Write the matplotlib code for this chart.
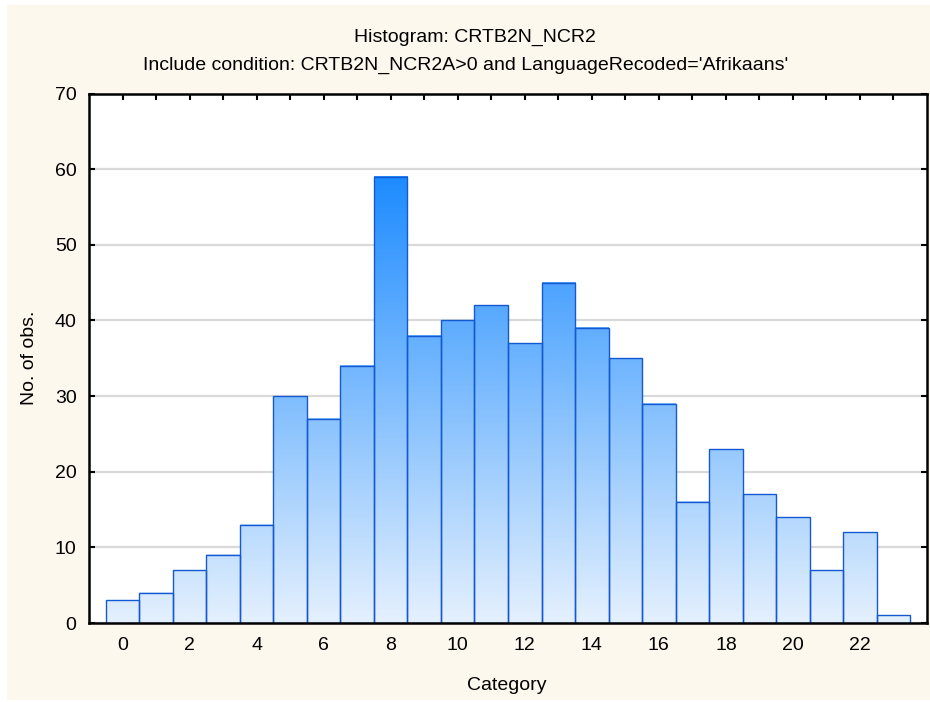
import numpy as np
import matplotlib.pyplot as plt
from matplotlib.colors import LinearSegmentedColormap
from matplotlib.patches import Rectangle

# data
categories = np.arange(24)
counts = [3, 4, 7, 9, 13, 30, 27, 34, 59, 38, 40, 42, 37, 45, 39, 35, 29, 16, 23, 17, 14, 7, 12, 1]
xticks = np.arange(0, 23, 2)
yticks = np.arange(0, 71, 10)

title1 = "Histogram: CRTB2N_NCR2"
title2 = "Include condition: CRTB2N_NCR2A>0 and LanguageRecoded='Afrikaans'"

FS = 14
plt.rcParams['font.family'] = ['Liberation Sans', 'DejaVu Sans']
plt.rcParams['font.size'] = FS

BG = '#FDF8EE'
EDGE = '#1459D2'
cmap = LinearSegmentedColormap.from_list('blues', ['#E4F0FD', '#1E8CFF'])

fig = plt.figure(figsize=(9.3, 7.02), dpi=100)
fig.patch.set_facecolor('white')
fig.patches.append(Rectangle((7 / 930, 2 / 702), 923 / 930, 695 / 702,
                             transform=fig.transFigure, facecolor=BG,
                             edgecolor='none', zorder=-10))

ax = fig.add_axes([89 / 930, 1 - 623 / 702, (927 - 89) / 930, (623 - 93.5) / 702])
ax.set_facecolor('white')

# gradient bars, colour depends on absolute height
vmax = 59
for x, h in zip(categories, counts):
    grad = np.linspace(0, h, 100).reshape(-1, 1)
    ax.imshow(grad, extent=(x - 0.5, x + 0.5, 0, h), origin='lower',
              cmap=cmap, vmin=0, vmax=vmax, aspect='auto', zorder=2,
              interpolation='bilinear')
ax.bar(categories, counts, width=1.0, fill=False, edgecolor=EDGE,
       linewidth=1.0, zorder=3)

ax.set_xlim(-1, 24)
ax.set_ylim(0, 70)
ax.set_xticks(xticks)
ax.set_xticks(categories, minor=True)
ax.set_yticks(yticks)
ax.yaxis.grid(True, color='#D9D9D9', linewidth=1.6, zorder=1)
ax.set_axisbelow(True)

ax.tick_params(axis='both', which='both', direction='in', top=True, right=True,
               length=4, width=1.5, color='black', labelsize=FS)
ax.tick_params(axis='x', which='major', pad=10)
ax.tick_params(axis='y', which='major', pad=9)
ax.tick_params(axis='x', which='minor', labelbottom=False)
for s in ax.spines.values():
    s.set_linewidth(1.8)
    s.set_zorder(5)

fig.text(475 / 930, 1 - 37 / 702, title1, ha='center', va='center', fontsize=FS)
fig.text(466 / 930, 1 - 65 / 702, title2, ha='center', va='center', fontsize=FS)
fig.text(30 / 930, 1 - 358 / 702, 'No. of obs.', ha='center', va='center',
         rotation=90, fontsize=FS)
fig.text(507 / 930, 1 - 686 / 702, 'Category', ha='center', va='center', fontsize=FS)

fig.savefig('out.png', dpi=100, facecolor=fig.get_facecolor())
